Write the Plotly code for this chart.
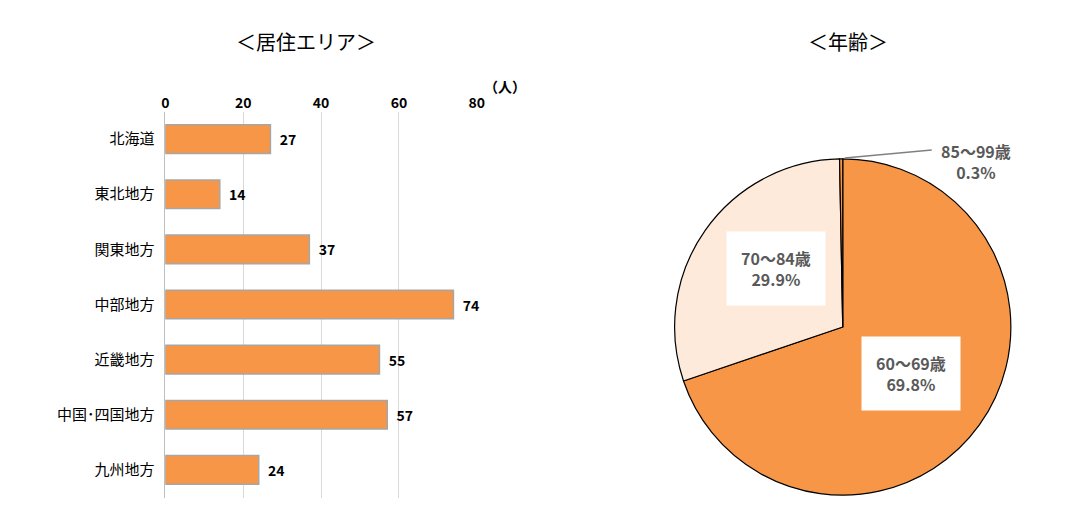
import plotly.graph_objects as go

regions = ["北海道", "東北地方", "関東地方", "中部地方", "近畿地方", "中国･四国地方", "九州地方"]
counts = [27, 14, 37, 74, 55, 57, 24]
ages = ["60～69歳", "70～84歳", "85～99歳"]
shares = [69.8, 29.9, 0.3]
age_colors = ["#F79646", "#FDEADA", "#F79646"]
FONT = "Noto Sans CJK JP"
W, H = 1088, 520
OFF = 8  # page body margin

def px(x, y):
    return (x - OFF) / W, 1 - (y - OFF) / H

fig = go.Figure()
fig.add_trace(go.Bar(
    y=regions, x=counts, orientation="h",
    marker=dict(color="#F79646", line=dict(color="#A6A6A6", width=1.5)),
    text=counts, textposition="outside",
    textfont=dict(family=FONT, size=14, color="#000"),
    texttemplate="  <b>%{text}</b>", cliponaxis=False, xaxis="x", yaxis="y"))
pcx, pcy = px(848, 327)
rx, ry = 170 / W, 170 / H
fig.add_trace(go.Pie(
    labels=ages, values=shares, sort=False, direction="clockwise", rotation=0,
    marker=dict(colors=age_colors, line=dict(color="#000", width=1.2)),
    textinfo="none", hoverinfo="label+percent", showlegend=False,
    domain=dict(x=[pcx - rx, pcx + rx], y=[pcy - ry, pcy + ry])))

ann = []
def add(text, x, y, size, color="#000", box=False):
    ax, ay = px(x, y)
    ann.append(dict(text=text, x=ax, y=ay, xref="paper", yref="paper", showarrow=False,
                    xanchor="center", yanchor="middle",
                    bgcolor="white" if box else "rgba(0,0,0,0)", borderpad=14 if box else 0,
                    font=dict(family=FONT, size=size, color=color)))

add("＜居住エリア＞", 305, 42, 20)
add("＜年齢＞", 853, 42, 20)
add("<b>（人）</b>", 507, 86, 14)
for i, (x, y, box) in enumerate([(917, 373, True), (781, 268, True), (983, 161, False)]):
    add(f"<b>{ages[i]}<br>{shares[i]}%</b>", x, y, 16, "#595959", box)

x0, y0 = px(850, 158)
x1, y1 = px(938, 150)
bx0, _ = px(163, 0)
bx1, _ = px(478, 0)
_, by1 = px(0, 111.5)
_, by0 = px(0, 497.5)
fig.update_layout(
    width=W, height=H, margin=dict(l=0, r=0, t=0, b=0),
    paper_bgcolor="white", plot_bgcolor="white", showlegend=False,
    bargap=0.48, annotations=ann,
    shapes=[dict(type="line", xref="paper", yref="paper", x0=x0, y0=y0, x1=x1, y1=y1,
                 line=dict(color="#808080", width=1.5))],
    xaxis=dict(domain=[bx0, bx1], range=[0, 80], side="top", dtick=20,
               showgrid=True, gridcolor="#D9D9D9", gridwidth=1, zeroline=False,
               tickfont=dict(family=FONT, size=14, color="#000"), tickprefix="<b>", ticksuffix="</b>",
               showline=False, ticks=""),
    yaxis=dict(domain=[by0, by1], autorange="reversed", showline=True,
               linecolor="#BFBFBF", ticks="", ticksuffix="  ",
               tickfont=dict(family=FONT, size=15, color="#000")),
)
fig.write_html("out.html")
